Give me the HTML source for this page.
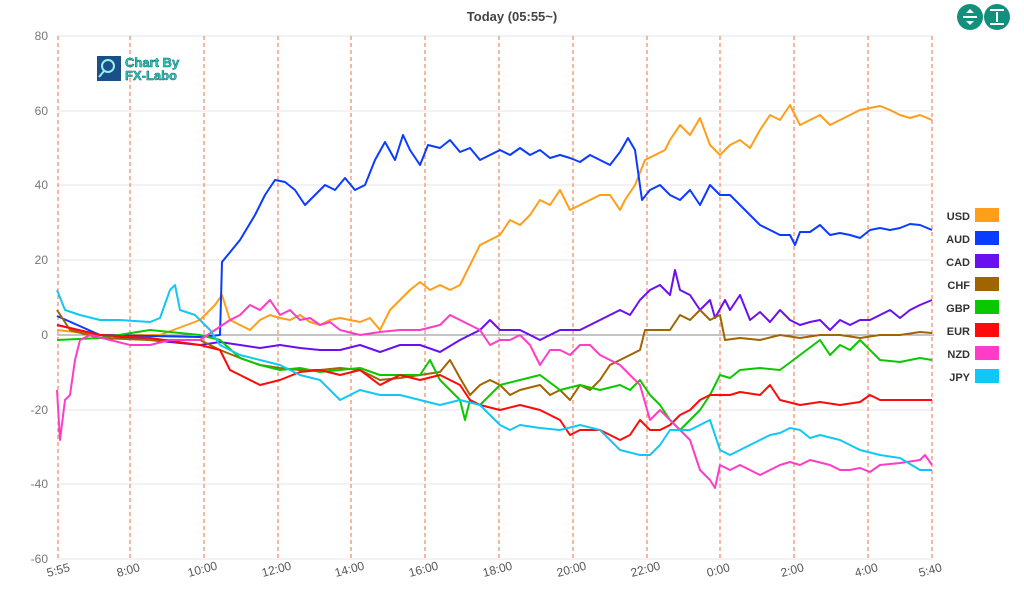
<!DOCTYPE html>
<html><head><meta charset="utf-8"><style>
body{margin:0;background:#fff;}
svg{display:block;font-family:"Liberation Sans",sans-serif;}
</style></head><body>
<svg width="1024" height="591" viewBox="0 0 1024 591" xmlns="http://www.w3.org/2000/svg">
<rect width="1024" height="591" fill="#fff"/>
<text x="512" y="21" text-anchor="middle" font-size="13" font-weight="bold" fill="#444">Today  (05:55~)</text>
<g stroke="#e4e6ee" stroke-width="1">
<line x1="57" y1="36" x2="932" y2="36"/><line x1="57" y1="111" x2="932" y2="111"/><line x1="57" y1="185" x2="932" y2="185"/><line x1="57" y1="260" x2="932" y2="260"/><line x1="57" y1="410" x2="932" y2="410"/><line x1="57" y1="484" x2="932" y2="484"/><line x1="57" y1="559" x2="932" y2="559"/>
</g>
<g font-size="12" fill="#777" text-anchor="end">
<text x="48" y="40">80</text><text x="48" y="115">60</text><text x="48" y="189">40</text><text x="48" y="264">20</text><text x="48" y="339">0</text><text x="48" y="414">-20</text><text x="48" y="488">-40</text><text x="48" y="563">-60</text>
</g>
<g stroke="#f07040" stroke-width="1" stroke-dasharray="4,3">
<line x1="58" y1="36" x2="58" y2="559"/><line x1="130" y1="36" x2="130" y2="559"/><line x1="204" y1="36" x2="204" y2="559"/><line x1="278" y1="36" x2="278" y2="559"/><line x1="351" y1="36" x2="351" y2="559"/><line x1="425" y1="36" x2="425" y2="559"/><line x1="499" y1="36" x2="499" y2="559"/><line x1="573" y1="36" x2="573" y2="559"/><line x1="647" y1="36" x2="647" y2="559"/><line x1="720" y1="36" x2="720" y2="559"/><line x1="794" y1="36" x2="794" y2="559"/><line x1="868" y1="36" x2="868" y2="559"/><line x1="932" y1="36" x2="932" y2="559"/>
</g>
<line x1="57" y1="335" x2="934" y2="335" stroke="#888" stroke-width="1"/>
<g font-size="12" fill="#555">
<text transform="translate(48,577) rotate(-15)">5:55</text><text transform="translate(118,577) rotate(-15)">8:00</text><text transform="translate(189,577) rotate(-15)">10:00</text><text transform="translate(263,577) rotate(-15)">12:00</text><text transform="translate(336,577) rotate(-15)">14:00</text><text transform="translate(410,577) rotate(-15)">16:00</text><text transform="translate(484,577) rotate(-15)">18:00</text><text transform="translate(558,577) rotate(-15)">20:00</text><text transform="translate(632,577) rotate(-15)">22:00</text><text transform="translate(708,577) rotate(-15)">0:00</text><text transform="translate(782,577) rotate(-15)">2:00</text><text transform="translate(856,577) rotate(-15)">4:00</text><text transform="translate(920,577) rotate(-15)">5:40</text>
</g>
<rect x="97" y="56" width="24" height="25" fill="#1a4f8a"/>
<circle cx="108" cy="66" r="6" fill="none" stroke="#9ee" stroke-width="2"/>
<line x1="104" y1="71" x2="99" y2="77" stroke="#9ee" stroke-width="2"/>
<text x="125" y="67" font-size="13" font-weight="bold" fill="#2cc9c0" stroke="#0a6a6a" stroke-width="0.5">Chart By</text>
<text x="125" y="80" font-size="13" font-weight="bold" fill="#2cc9c0" stroke="#0a6a6a" stroke-width="0.5">FX-Labo</text>
<g fill="none" stroke-width="2" stroke-linejoin="round">
<polyline stroke="#ff9e18" points="57,330 100,335 160,335 200,320 215,305 222,295 230,320 240,325 250,330 260,320 270,315 280,318 290,320 300,315 310,322 320,325 330,320 340,318 350,320 360,322 370,318 380,330 390,310 400,300 410,290 420,282 430,290 440,285 450,290 460,285 470,265 480,245 490,240 500,235 510,220 520,225 530,215 540,200 550,205 560,190 570,210 580,205 590,200 600,195 610,195 620,210 625,200 635,185 645,160 655,155 665,150 670,140 680,125 690,135 700,118 710,145 720,155 730,145 740,140 750,148 760,130 770,115 780,120 790,105 800,125 810,120 820,115 830,125 840,120 850,115 860,110 870,108 880,106 890,110 900,115 910,118 920,115 932,120"/>
<polyline stroke="#0a3cff" points="57,316 100,335 200,337 220,335 222,262 240,240 255,215 265,195 275,180 285,182 295,190 305,205 315,195 325,185 335,190 345,178 355,190 365,185 375,160 385,142 395,160 403,135 410,150 420,165 428,145 440,148 450,140 460,152 470,148 480,160 490,155 500,150 510,155 520,148 530,155 540,150 550,158 560,155 570,158 580,162 590,155 600,160 610,165 620,152 628,138 635,150 642,200 650,190 660,185 670,195 680,200 690,190 700,205 710,185 720,195 730,195 740,205 750,215 760,225 770,230 780,235 790,235 795,245 800,232 810,232 820,225 830,235 840,233 850,235 860,238 870,230 880,228 890,230 900,228 910,224 920,225 932,230"/>
<polyline stroke="#6a10f0" points="57,325 100,335 150,340 200,345 220,342 240,345 260,348 280,345 300,348 320,350 340,350 360,345 380,352 400,345 420,345 440,352 460,340 480,330 490,320 500,330 520,330 540,340 560,330 580,330 600,320 620,310 630,315 640,300 650,290 660,285 670,295 675,270 680,290 690,295 700,310 710,300 715,318 725,300 730,310 740,295 750,320 760,312 770,322 780,310 790,320 800,325 810,322 820,320 830,330 840,320 850,325 860,320 870,320 880,315 890,310 900,318 910,310 920,305 932,300"/>
<polyline stroke="#a06400" points="57,310 70,330 100,338 150,340 200,340 220,350 240,358 260,365 280,368 300,370 320,370 340,368 360,370 380,380 400,378 420,375 440,372 450,360 460,378 470,395 480,385 490,380 500,385 510,395 520,390 540,385 550,395 560,390 570,400 580,385 590,390 600,380 610,365 620,360 630,355 640,350 645,330 660,330 670,330 680,315 690,320 700,310 710,320 720,315 725,340 740,338 760,340 780,335 800,338 820,335 840,335 860,338 880,335 900,335 920,332 932,333"/>
<polyline stroke="#0ac800" points="57,340 100,338 150,330 200,335 220,340 240,358 260,365 280,370 300,368 320,372 340,370 360,368 380,375 400,375 420,375 430,360 440,380 450,390 460,400 465,420 470,400 480,405 500,385 520,380 540,375 560,390 580,385 600,390 620,385 630,390 640,380 650,395 660,405 670,420 680,430 690,420 700,410 710,395 720,375 730,378 740,370 760,368 780,370 800,355 820,340 830,355 840,345 850,350 860,340 870,350 880,360 900,362 920,358 932,360"/>
<polyline stroke="#ff0a0a" points="57,325 100,335 150,338 200,345 220,350 230,370 240,375 260,385 280,380 300,372 320,370 340,375 360,370 380,385 400,375 420,380 440,375 450,380 460,385 470,400 480,405 500,410 520,405 540,410 560,420 570,435 580,430 600,430 620,440 630,435 640,420 650,430 660,430 670,425 680,415 690,410 700,400 710,395 720,395 730,395 740,392 760,395 770,385 780,400 800,405 820,402 840,405 860,402 870,395 880,400 900,400 920,400 932,400"/>
<polyline stroke="#ff3cc8" points="57,390 60,440 65,400 70,395 75,360 80,340 90,335 110,340 130,345 150,345 170,340 200,340 215,330 230,320 240,315 250,305 260,310 270,300 280,315 290,310 300,320 310,318 320,325 330,322 340,330 360,335 380,332 400,330 420,330 440,325 450,315 460,320 470,325 480,330 490,345 500,340 510,340 520,335 530,345 540,365 550,350 560,350 570,355 580,345 590,345 600,355 610,360 620,365 630,375 640,385 650,420 660,410 670,420 680,430 690,440 700,470 710,480 715,488 720,465 730,470 740,465 750,470 760,475 770,470 780,465 790,462 800,465 810,460 830,465 840,470 850,470 860,468 870,472 880,465 900,463 920,460 925,455 932,465"/>
<polyline stroke="#10c8f8" points="57,290 65,310 80,315 100,320 120,320 150,322 160,318 170,290 175,285 180,310 195,315 210,330 220,345 240,355 260,360 280,365 300,375 320,380 330,390 340,400 350,395 360,390 380,395 400,395 420,400 440,405 460,400 480,405 490,415 500,425 510,430 520,425 540,428 560,430 580,425 600,430 620,450 640,455 650,455 660,445 670,430 690,430 700,425 710,420 720,450 730,455 740,450 760,440 770,435 780,433 790,428 800,430 810,438 820,435 840,440 850,445 860,450 880,455 900,458 920,470 932,470"/>
</g>
<g font-size="11" font-weight="bold" fill="#333" text-anchor="end">
<text x="970" y="220">USD</text><text x="970" y="243">AUD</text><text x="970" y="266">CAD</text><text x="970" y="289">CHF</text><text x="970" y="312">GBP</text><text x="970" y="335">EUR</text><text x="970" y="358">NZD</text><text x="970" y="381">JPY</text>
</g>
<rect x="975" y="208" width="24" height="14" fill="#ff9e18"/><rect x="975" y="231" width="24" height="14" fill="#0a3cff"/><rect x="975" y="254" width="24" height="14" fill="#6a10f0"/><rect x="975" y="277" width="24" height="14" fill="#a06400"/><rect x="975" y="300" width="24" height="14" fill="#0ac800"/><rect x="975" y="323" width="24" height="14" fill="#ff0a0a"/><rect x="975" y="346" width="24" height="14" fill="#ff3cc8"/><rect x="975" y="369" width="24" height="14" fill="#10c8f8"/>
<circle cx="970" cy="17" r="13" fill="#12907e"/><circle cx="997" cy="17" r="13" fill="#12907e"/>
<g stroke="#fff" stroke-width="2"><line x1="963" y1="17" x2="977" y2="17"/><line x1="990" y1="10" x2="1004" y2="10"/><line x1="990" y1="24" x2="1004" y2="24"/><line x1="997" y1="12" x2="997" y2="22"/></g>
<path d="M966,13 L970,9 L974,13 Z M966,21 L970,25 L974,21 Z" fill="#fff"/>
</svg>
</body></html>
